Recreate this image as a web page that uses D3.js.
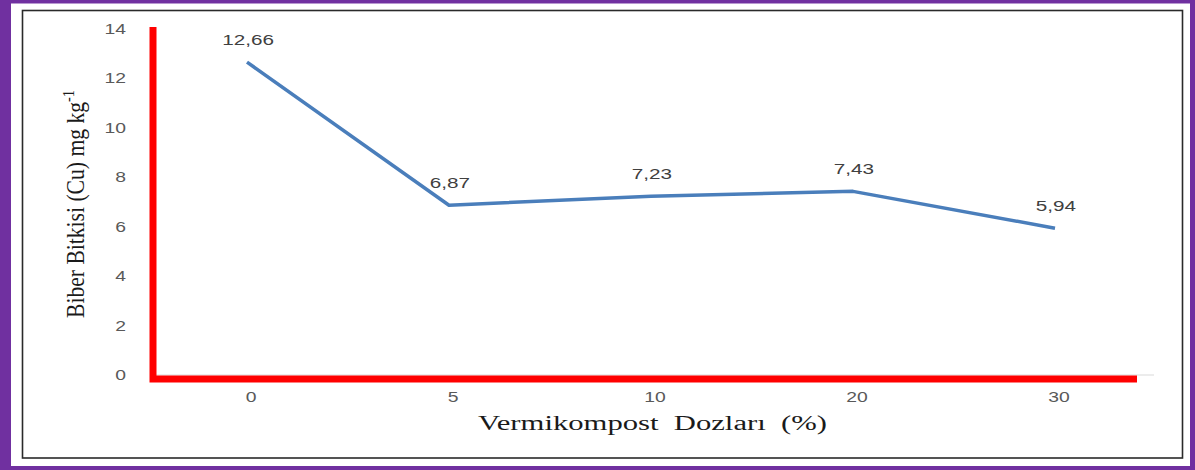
<!DOCTYPE html>
<html>
<head>
    <style>
        body { margin: 0; background: #fff; }
        svg { display: block; }
    </style>
    <script src="https://d3js.org/d3.v7.min.js"></script>
</head>
<body>
    <svg width="1195" height="470"></svg>
    <script>
        // data
        var doses = ["0", "5", "10", "20", "30"];
        var cuValues = [12.66, 6.87, 7.23, 7.43, 5.94];
        var valueLabels = ["12,66", "6,87", "7,23", "7,43", "5,94"];
        var yTicks = [0, 2, 4, 6, 8, 10, 12, 14];

        var svg = d3.select("svg");
        var stretch = 1.38; // the picture is pulled wide, text too

        // purple frame + black inner box
        svg.append("rect").attr("width", 1195).attr("height", 470).attr("fill", "#7030a0");
        svg.append("rect").attr("x", 11).attr("y", 3.5).attr("width", 1179).attr("height", 462.5).attr("fill", "#fff");
        svg.append("rect").attr("x", 22.5).attr("y", 10.5).attr("width", 1160).attr("height", 447.5)
            .attr("fill", "none").attr("stroke", "#2a2a2a").attr("stroke-width", 1.6);

        var x = d3.scalePoint().domain(doses).range([146, 1156]).padding(0.5);
        var y = d3.scaleLinear().domain([0, 14]).range([375, 29]);

        function stretchedText(sel, px, py) {
            return sel.attr("transform", "translate(" + px + "," + py + ") scale(" + stretch + ",1)");
        }

        // gray baseline
        svg.append("line").attr("x1", 150).attr("x2", 1154)
            .attr("y1", y(0)).attr("y2", y(0)).attr("stroke", "#d9d9d9").attr("stroke-width", 1);

        // red axes
        svg.append("path")
            .attr("d", "M153," + (y(14) - 2) + "V" + (y(0) + 4) + "H1137")
            .attr("fill", "none").attr("stroke", "#ff0000").attr("stroke-width", 7);

        // y tick labels
        svg.selectAll(".ytick").data(yTicks).enter().append("text")
            .attr("class", "ytick")
            .each(function(d) { stretchedText(d3.select(this), 126, y(d) + 5); })
            .attr("text-anchor", "end")
            .attr("font-family", "Liberation Sans, Arial, sans-serif")
            .attr("font-size", 14)
            .attr("fill", "#595959")
            .text(function(d) { return d; });

        // x tick labels
        svg.selectAll(".xtick").data(doses).enter().append("text")
            .attr("class", "xtick")
            .each(function(d) { stretchedText(d3.select(this), x(d) + 4, 402); })
            .attr("text-anchor", "middle")
            .attr("font-family", "Liberation Sans, Arial, sans-serif")
            .attr("font-size", 14)
            .attr("fill", "#595959")
            .text(function(d) { return d; });

        // line
        var line = d3.line()
            .x(function(d, i) { return x(doses[i]); })
            .y(function(d) { return y(d); });

        svg.append("path").datum(cuValues)
            .attr("d", line)
            .attr("fill", "none").attr("stroke", "#4a7ebb").attr("stroke-width", 3.5)
            .attr("stroke-linejoin", "round");

        // value labels
        svg.selectAll(".vlab").data(cuValues).enter().append("text")
            .attr("class", "vlab")
            .each(function(d, i) { stretchedText(d3.select(this), x(doses[i]) + 1, y(d) - 17); })
            .attr("text-anchor", "middle")
            .attr("font-family", "Liberation Sans, Arial, sans-serif")
            .attr("font-size", 15)
            .attr("fill", "#404040")
            .text(function(d, i) { return valueLabels[i]; });

        // axis titles (Times-like)
        svg.append("text")
            .attr("x", 478).attr("y", 430)
            .attr("font-family", "Liberation Serif, Times New Roman, serif")
            .attr("font-size", 20)
            .attr("fill", "#1a1a1a")
            .attr("textLength", 349).attr("lengthAdjust", "spacingAndGlyphs")
            .attr("xml:space", "preserve")
            .text("Vermikompost  Dozları  (%)");

        var yt = svg.append("text")
            .attr("transform", "translate(84,318) scale(" + stretch + ",1) rotate(-90)")
            .attr("font-family", "Liberation Serif, Times New Roman, serif")
            .attr("font-size", 18)
            .attr("fill", "#1a1a1a")
            .attr("textLength", 228).attr("lengthAdjust", "spacingAndGlyphs");
        yt.append("tspan").text("Biber Bitkisi (Cu) mg kg");
        yt.append("tspan").attr("dy", -7).attr("font-size", 12).text("-1");
    </script>
</body>
</html>
